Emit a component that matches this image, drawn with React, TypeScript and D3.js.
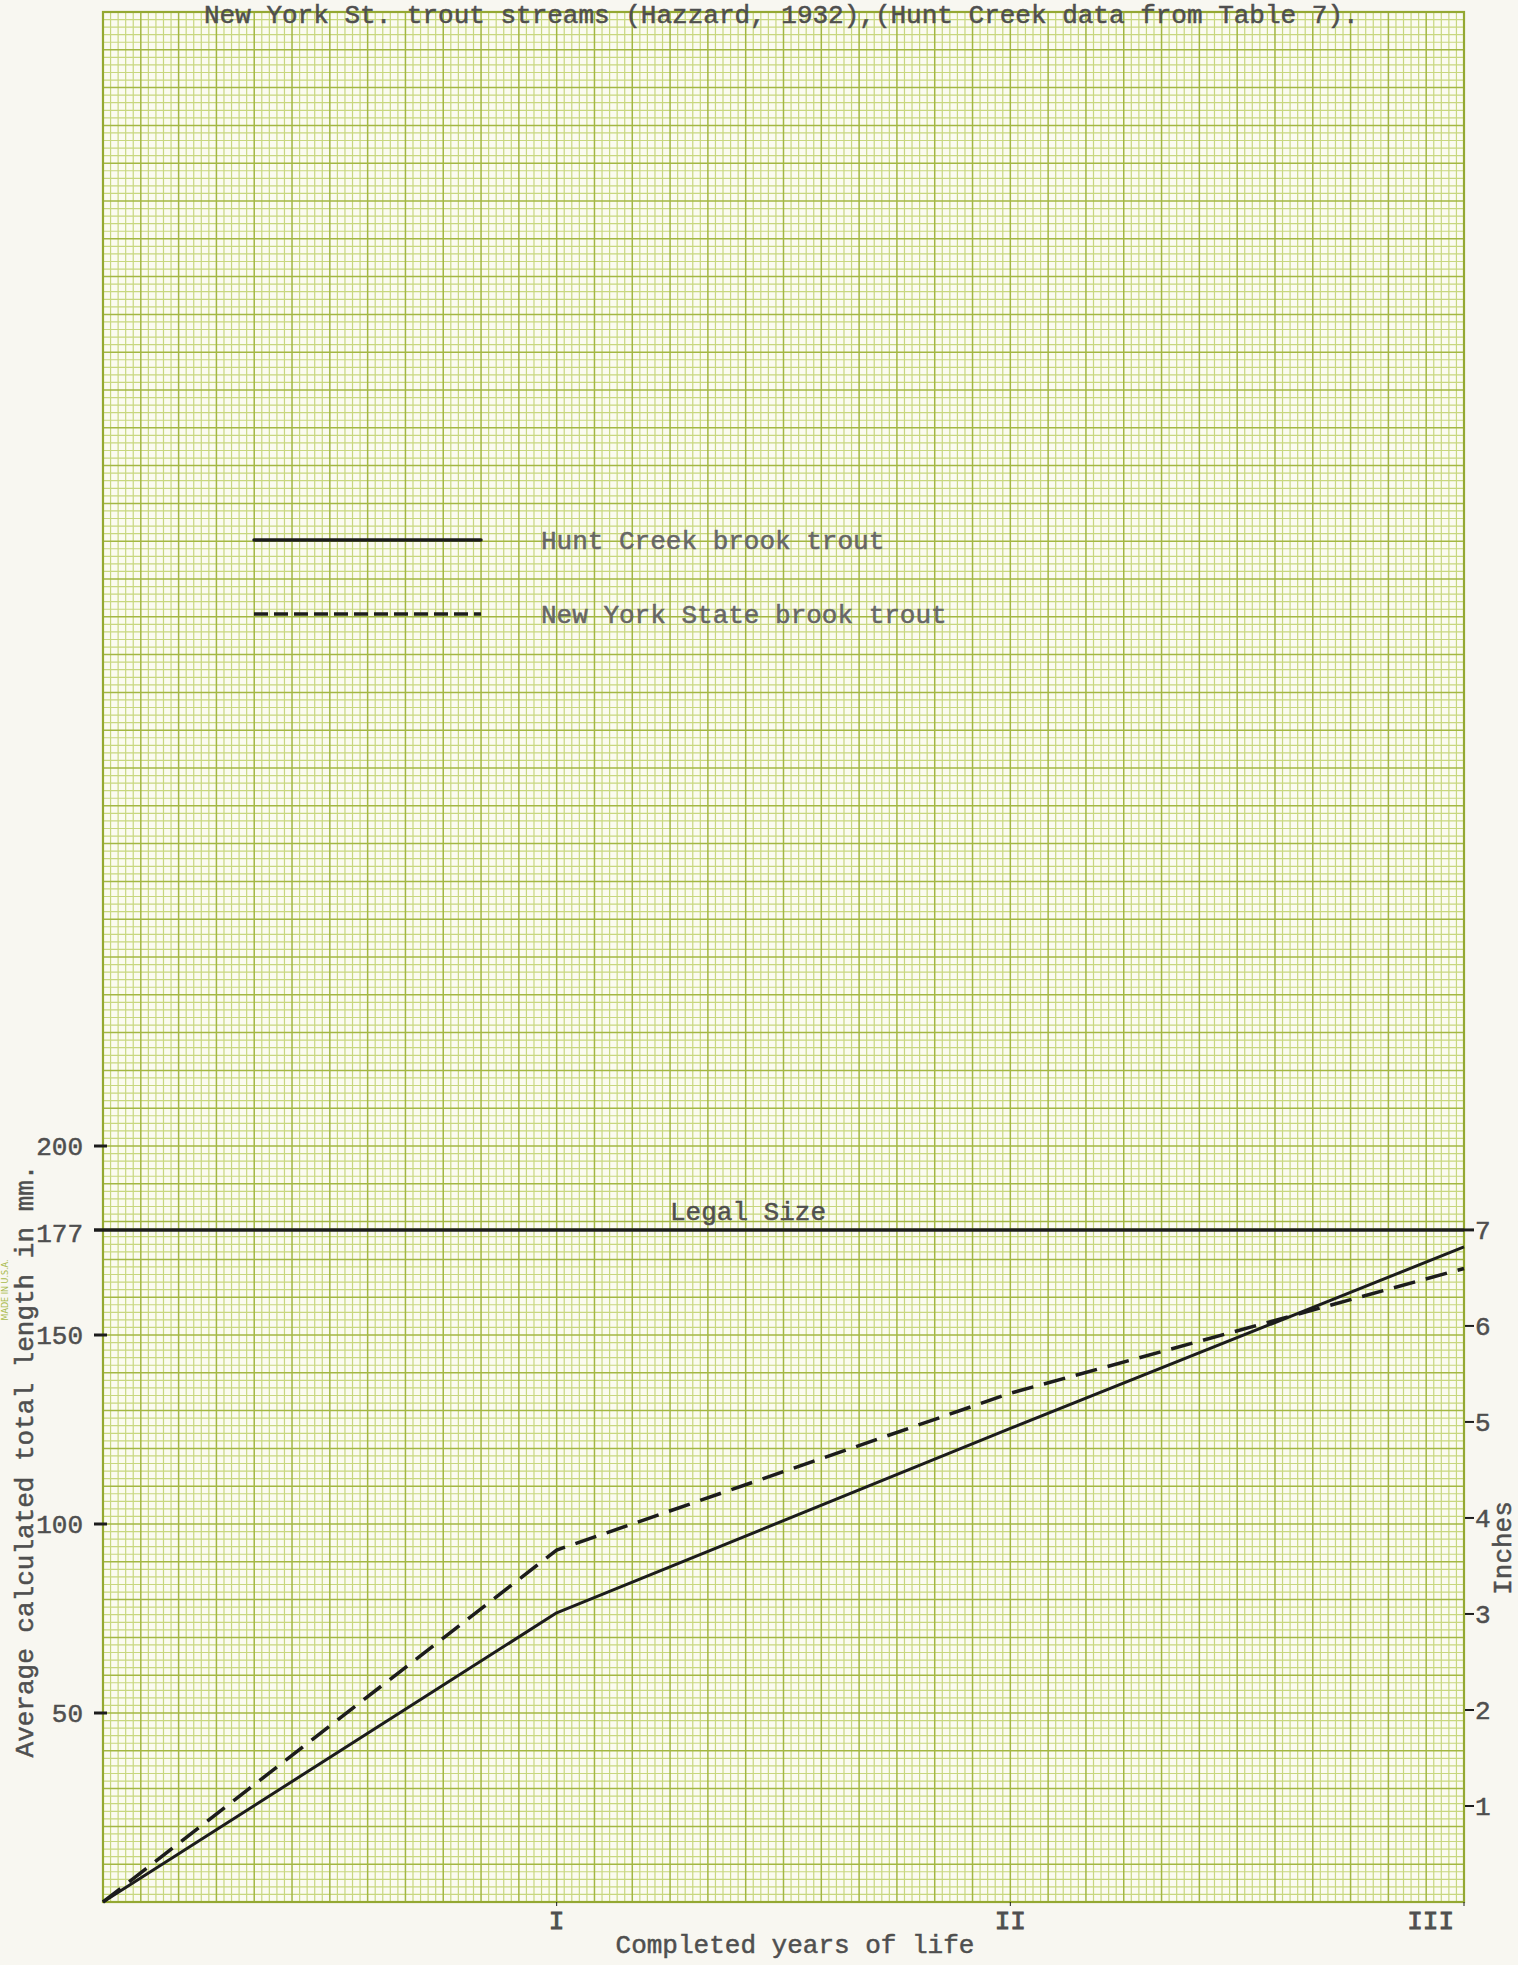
import React from "react";
import * as d3 from "d3";

const years = [0, 1, 2, 3];
const yearLabels = ["", "I", "II", "III"];
const huntCreek = [0, 76.5, 125.3, 173.3];
const newYork = [0, 93.1, 134.6, 167.6];
const mmTicks = [50, 100, 150, 177, 200];
const inchTicks = [1, 2, 3, 4, 5, 6, 7];
const legalSizeMm = 177.8;
const seriesNames = ["Hunt Creek brook trout", "New York State brook trout"];
const titleText = "New York St. trout streams (Hazzard, 1932),(Hunt Creek data from Table 7).";

const W = 1518;
const H = 1965;
const left = 103;
const right = 1464;
const top = 12;
const bottom = 1902;

const FONT = "'Liberation Mono', 'DejaVu Sans Mono', monospace";
const INK = "#1c1c1c";
const TYPE = "#4f4f4f";
const MINOR = "#c8d77f";
const MAJOR = "#a3b743";
const BORDER = "#94a832";

export default function App() {
  const x = d3.scaleLinear().domain([0, 3]).range([left, right]);
  const y = d3.scaleLinear().domain([0, 500]).range([bottom, top]);
  const yIn = d3.scaleLinear().domain([0, 500 / 25.4]).range([bottom, top]);

  const xCells = d3.range(0, 181); // 60 cells per year
  const yCells = d3.range(0, 251); // 2 mm per cell

  const line = d3
    .line<number>()
    .x((_, i) => x(years[i]))
    .y((d) => y(d));

  const hunt = line(huntCreek) || "";
  const ny = line(newYork) || "";

  const textStyle = { fontFamily: FONT, fontSize: 26, fill: TYPE, stroke: TYPE, strokeWidth: 0.5 };

  return (
    <svg
      width={W}
      height={H}
      style={{ position: "absolute", left: 0, top: 0, display: "block" }}
    >
      <rect x={0} y={0} width={W} height={H} fill="#f8f7f1" />
      <rect x={left} y={top} width={right - left} height={bottom - top} fill="#fbfbf0" />

      {/* minor grid */}
      <g>
        {xCells.filter((c) => c % 5 !== 0).map((c) => {
          const px = x(c / 60);
          return <line key={"vx" + c} x1={px} x2={px} y1={top} y2={bottom} stroke={MINOR} strokeWidth={1.2} />;
        })}
        {yCells.filter((c) => c % 5 !== 0).map((c) => {
          const py = y(c * 2);
          return <line key={"hy" + c} x1={left} x2={right} y1={py} y2={py} stroke={MINOR} strokeWidth={1.2} />;
        })}
      </g>
      {/* major grid */}
      <g>
        {xCells.filter((c) => c % 5 === 0).map((c) => {
          const px = x(c / 60);
          return <line key={"Vx" + c} x1={px} x2={px} y1={top} y2={bottom} stroke={MAJOR} strokeWidth={1.5} />;
        })}
        {yCells.filter((c) => c % 5 === 0).map((c) => {
          const py = y(c * 2);
          return <line key={"Hy" + c} x1={left} x2={right} y1={py} y2={py} stroke={MAJOR} strokeWidth={1.5} />;
        })}
      </g>
      <rect x={left} y={top} width={right - left} height={bottom - top} fill="none" stroke={BORDER} strokeWidth={2.2} />

      {/* title */}
      <text x={204} y={23} {...textStyle}>{titleText}</text>

      {/* left axis ticks */}
      {mmTicks.map((t) => (
        <g key={"mm" + t}>
          {t !== 177 && (
            <line x1={94} x2={107} y1={y(t)} y2={y(t)} stroke={INK} strokeWidth={3} />
          )}
          <text x={83} y={y(t)} dy="0.35em" textAnchor="end" {...textStyle}>
            {t}
          </text>
        </g>
      ))}

      {/* right axis ticks (inches) */}
      {inchTicks.map((t) => (
        <g key={"in" + t}>
          <line x1={t === 7 ? right : right + 1} x2={right + 10} y1={yIn(t)} y2={yIn(t)} stroke={INK} strokeWidth={t === 7 ? 3 : 2} />
          <text x={right + 11} y={yIn(t)} dy="0.35em" textAnchor="start" {...textStyle}>
            {t}
          </text>
        </g>
      ))}

      {/* x axis ticks and labels */}
      {years.map((yr, i) =>
        i === 0 ? null : (
          <g key={"yr" + yr}>
            <line x1={x(yr)} x2={x(yr)} y1={bottom} y2={bottom + 4} stroke={INK} strokeWidth={1} />
            <text
              x={i === years.length - 1 ? x(yr) - 10 : x(yr)}
              y={bottom + 27}
              textAnchor={i === years.length - 1 ? "end" : "middle"}
              {...textStyle}
              strokeWidth={0.9}
            >
              {yearLabels[i]}
            </text>
          </g>
        )
      )}

      {/* axis titles */}
      <text x={795} y={1953} textAnchor="middle" {...textStyle}>Completed years of life</text>
      <text
        transform={`translate(33, ${1461}) rotate(-90)`}
        textAnchor="middle"
        {...textStyle}
      >
        Average calculated total length in mm.
      </text>
      <text
        transform={`translate(1511, ${1548}) rotate(-90)`}
        textAnchor="middle"
        {...textStyle}
      >
        Inches
      </text>
      <text
        transform={`translate(8, ${1290}) rotate(-90)`}
        textAnchor="middle"
        fontFamily="'DejaVu Sans', sans-serif"
        fontSize={8}
        fill="#a9bb4c"
      >
        MADE IN U.S.A.
      </text>

      {/* legal size line */}
      <line x1={94} x2={right} y1={y(legalSizeMm)} y2={y(legalSizeMm)} stroke={INK} strokeWidth={3.5} />
      <text x={748} y={y(legalSizeMm) - 10} textAnchor="middle" {...textStyle}>Legal Size</text>

      {/* data lines */}
      <path d={hunt} fill="none" stroke={INK} strokeWidth={3} strokeLinejoin="round" />
      <path d={ny} fill="none" stroke={INK} strokeWidth={3.5} strokeDasharray="22 11" />

      {/* legend */}
      <line x1={254} x2={481} y1={540} y2={540} stroke={INK} strokeWidth={3.5} strokeLinecap="round" />
      <line x1={254} x2={481} y1={614} y2={614} stroke={INK} strokeWidth={3.5} strokeDasharray="14 6" />
      <text x={541} y={540} dy="0.35em" {...textStyle} fill="#666" stroke="#666">{seriesNames[0]}</text>
      <text x={541} y={614} dy="0.35em" {...textStyle} fill="#666" stroke="#666">{seriesNames[1]}</text>
    </svg>
  );
}
